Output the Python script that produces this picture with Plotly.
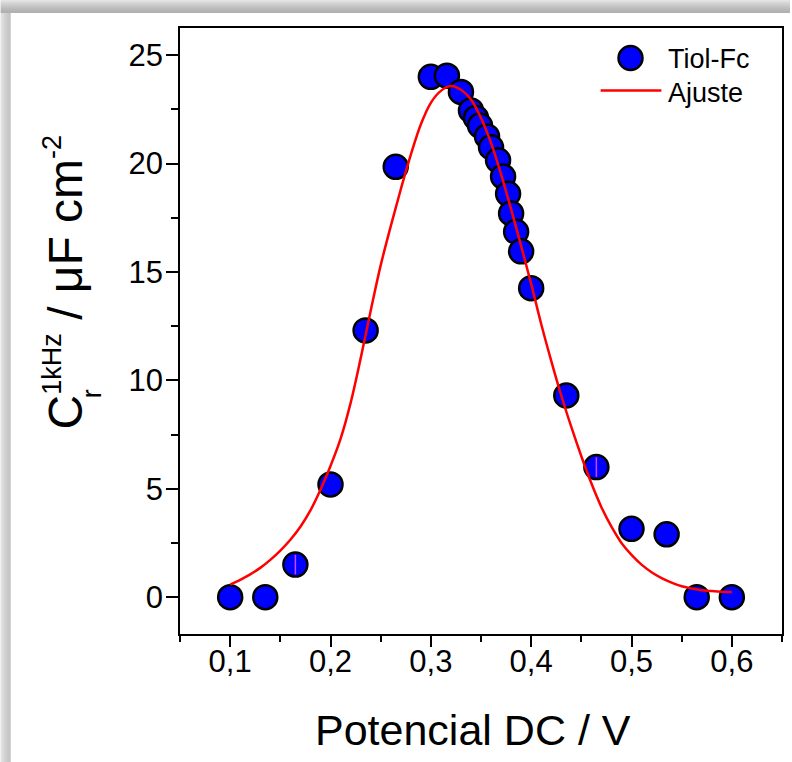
import plotly.graph_objects as go

# Measured capacitance vs DC potential (Tiol-Fc)
potential = [0.100, 0.135, 0.165, 0.200, 0.235, 0.265, 0.300, 0.316, 0.330, 0.340,
             0.345, 0.349, 0.356, 0.360, 0.367, 0.372, 0.377, 0.380, 0.385, 0.390,
             0.400, 0.435, 0.465, 0.500, 0.535, 0.565, 0.600]
capacitance = [0.0, 0.0, 1.5, 5.2, 12.3, 19.85, 24.0, 24.05, 23.3, 22.45,
               22.1, 21.75, 21.25, 20.75, 20.15, 19.4, 18.6, 17.7, 16.85, 15.95,
               14.25, 9.3, 6.0, 3.15, 2.9, 0.0, 0.0]
cap_error = [0, 0, 0.45, 0, 0, 0, 0, 0, 0, 0,
             0, 0, 0, 0, 0, 0, 0, 0, 0, 0,
             0, 0, 0.45, 0, 0, 0, 0]

# Fitted curve ("Ajuste")
fit_x = [0.10, 0.11, 0.12, 0.13, 0.14, 0.15, 0.16, 0.17, 0.18, 0.19, 0.20,
         0.21, 0.22, 0.23, 0.24, 0.25, 0.26, 0.27, 0.28, 0.29, 0.30,
         0.31, 0.32, 0.33, 0.34, 0.35, 0.36, 0.37, 0.38, 0.39, 0.40,
         0.41, 0.42, 0.43, 0.44, 0.45, 0.46, 0.47, 0.48, 0.49, 0.50,
         0.51, 0.52, 0.53, 0.54, 0.55, 0.56, 0.57, 0.58, 0.59, 0.60]
fit_y = [0.58, 0.80, 1.05, 1.35, 1.72, 2.15, 2.65, 3.25, 4.00, 4.95, 6.05,
         7.30, 8.95, 11.0, 13.2, 15.3, 17.1, 18.8, 20.4, 21.8, 22.8,
         23.35, 23.57, 23.4, 22.95, 22.1, 20.95, 19.5, 17.9, 16.2, 14.45,
         12.6, 10.9, 9.3, 7.85, 6.5, 5.25, 4.15, 3.25, 2.5, 1.95,
         1.5, 1.15, 0.88, 0.67, 0.50, 0.40, 0.32, 0.28, 0.25, 0.24]

x_range = [0.05, 0.65]
y_range = [-1.7, 26.25]

W, H = 792, 762
ML, MR, MT, MB = 180, 8, 28, 128
PW, PH = W - ML - MR, H - MT - MB

FONT = "Liberation Sans, Arial, sans-serif"


def px_x(p):
    return (p - ML) / PW


def px_y(p):
    return (H - MB - p) / PH


fig = go.Figure()

fig.add_trace(go.Scatter(
    x=potential, y=capacitance, mode="markers", name="Tiol-Fc",
    marker=dict(size=24, color="#0000ff", line=dict(color="black", width=2.5)),
    showlegend=False,
))

err_x = [x for x, e in zip(potential, cap_error) if e > 0]
err_y = [y for y, e in zip(capacitance, cap_error) if e > 0]
err_v = [e for e in cap_error if e > 0]
fig.add_trace(go.Scatter(
    x=err_x, y=err_y, mode="markers", showlegend=False, hoverinfo="skip",
    marker=dict(size=1, color="rgba(0,0,0,0)"),
    error_y=dict(type="data", array=err_v, color="#d040ff", thickness=1.5, width=0),
))

fig.add_trace(go.Scatter(
    x=fit_x, y=fit_y, mode="lines", name="Ajuste", line_shape="spline",
    line=dict(color="#ff0000", width=2.5), showlegend=False,
))

shapes = []
# drop shadow of the page frame (top and left edges)
top_grays = ["#e4e4e4", "#dedede", "#d8d8d8", "#d3d3d3", "#cecece", "#c9c9c9", "#c4c4c4",
             "#c0c0c0", "#bcbcbc", "#b8b8b8", "#b5b5b5", "#b2b2b2", "#b0b0b0"]
for i, g in enumerate(top_grays):
    shapes.append(dict(type="rect", xref="paper", yref="paper", layer="below",
                       x0=px_x(0), x1=px_x(W), y0=px_y(i + 1), y1=px_y(i),
                       fillcolor=g, line_width=0))
left_grays = ["#dcdcdc", "#d6d6d6", "#d0d0d0", "#cacaca", "#c5c5c5", "#c0c0c0", "#bcbcbc",
              "#b8b8b8", "#b4b4b4", "#b1b1b1"]
for i, g in enumerate(left_grays):
    shapes.append(dict(type="rect", xref="paper", yref="paper", layer="below",
                       x0=px_x(i), x1=px_x(i + 1), y0=px_y(H), y1=px_y(13),
                       fillcolor=g, line_width=0))

# legend: marker sample and line sample
shapes.append(dict(type="circle", xref="paper", yref="paper",
                   xsizemode="pixel", ysizemode="pixel",
                   xanchor=px_x(632), yanchor=px_y(58),
                   x0=-12, x1=12, y0=-12, y1=12,
                   fillcolor="#0000ff", line=dict(color="black", width=2.5)))
shapes.append(dict(type="line", xref="paper", yref="paper",
                   x0=px_x(602), x1=px_x(663), y0=px_y(90.5), y1=px_y(90.5),
                   line=dict(color="#ff0000", width=2.5)))

annotations = [
    dict(text="Tiol-Fc", xref="paper", yref="paper", x=px_x(668), y=px_y(59),
         xanchor="left", yanchor="middle", showarrow=False,
         font=dict(family=FONT, size=27, color="black")),
    dict(text="Ajuste", xref="paper", yref="paper", x=px_x(668), y=px_y(93),
         xanchor="left", yanchor="middle", showarrow=False,
         font=dict(family=FONT, size=27, color="black")),
    # y-axis title, with the stacked subscript added separately
    dict(text="C<sup><span style='font-size:27px'>1kHz</span></sup> / μF cm<sup><span style='font-size:27px'>-2</span></sup>",
         xref="paper", yref="paper", x=px_x(64), y=px_y(282),
         xanchor="center", yanchor="middle", textangle=-90, showarrow=False,
         font=dict(family=FONT, size=48, color="black")),
    dict(text="r", xref="paper", yref="paper", x=px_x(92), y=px_y(394),
         xanchor="center", yanchor="middle", textangle=-90, showarrow=False,
         font=dict(family=FONT, size=27, color="black")),
    # x-axis title
    dict(text="Potencial DC / V", xref="paper", yref="paper",
         x=px_x(474), y=px_y(730), xanchor="center", yanchor="middle",
         showarrow=False, font=dict(family=FONT, size=43, color="black")),
]

axis_common = dict(
    showline=True, linecolor="black", linewidth=1.5, mirror=True,
    ticks="outside", tickcolor="black", tickwidth=1.5,
    showgrid=False, zeroline=False,
    tickfont=dict(family=FONT, size=31, color="black"),
)

fig.update_layout(
    width=W, height=H,
    margin=dict(l=ML, r=MR, t=MT, b=MB),
    paper_bgcolor="white", plot_bgcolor="white",
    separators=",.",
    showlegend=False,
    xaxis=dict(
        range=x_range, dtick=0.1, tick0=0.1, tickformat=".1f", ticklen=11,
        ticklabelstandoff=-12,
        minor=dict(ticks="outside", dtick=0.05, tick0=0.05, ticklen=6,
                   tickcolor="black", tickwidth=1.5),
        **axis_common,
    ),
    yaxis=dict(
        range=y_range, dtick=5, tick0=0, ticklen=12,
        ticklabelstandoff=-3,
        minor=dict(ticks="outside", dtick=2.5, tick0=0, ticklen=7,
                   tickcolor="black", tickwidth=1.5),
        **axis_common,
    ),
    shapes=shapes,
    annotations=annotations,
)

fig.write_html("out.html")
